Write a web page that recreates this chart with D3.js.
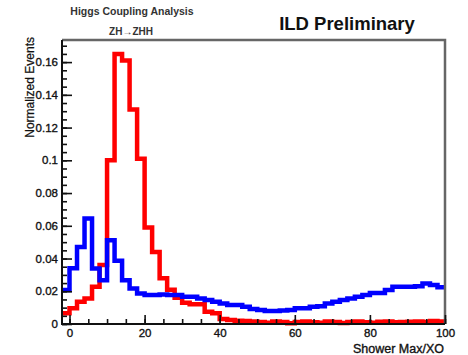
<!DOCTYPE html>
<html>
<head>
<meta charset="utf-8">
<script src="https://cdn.jsdelivr.net/npm/d3@7"></script>
<style>
  body { margin: 0; background: #fff; }
  svg { display: block; font-family: "Liberation Sans", Arial, sans-serif; }
</style>
</head>
<body>
<div id="chart"></div>
<script>
// histogram: 51 bins of width 2 from -2 to 100
const binStart = -2;
const binWidth = 2;
const redCounts = [
  0.0065, 0.0096, 0.0136, 0.0156, 0.0227, 0.036, 0.100, 0.165, 0.161, 0.131,
  0.101, 0.059, 0.044, 0.028, 0.021, 0.016, 0.013, 0.012, 0.012, 0.0075,
  0.0065, 0.003, 0.0025, 0.002, 0.0018, 0.0015, 0.0012, 0.0008, 0.0015, 0.0012,
  0.0005, 0.0012, 0.0015, 0.001, 0.0008, 0.0015, 0.0012, 0.0006, 0.0012, 0.0015,
  0.001, 0.0008, 0.0013, 0.0016, 0.001, 0.0012, 0.0014, 0.0015, 0.0012, 0.0018,
  0.0015
];
const blueCounts = [
  0.0207, 0.034, 0.047, 0.0644, 0.0339, 0.0268, 0.0512, 0.0386, 0.0268, 0.0217,
  0.0187, 0.0177, 0.0177, 0.018, 0.0177, 0.0177, 0.0166, 0.0166, 0.0156, 0.0146,
  0.0136, 0.0126, 0.0116, 0.0116, 0.0106, 0.0092, 0.0085, 0.008, 0.008, 0.0082,
  0.0085, 0.0096, 0.0096, 0.0105, 0.0108, 0.0126, 0.0136, 0.0146, 0.0156, 0.0166,
  0.0177, 0.019, 0.019, 0.0207, 0.0227, 0.0227, 0.0227, 0.0231, 0.0248, 0.0238,
  0.0224
];
const xMajorTicks = [0, 20, 40, 60, 80, 100];
const xMinorTicks = d3.range(0, 101, 5);
const yMajorTicks = [0, 0.02, 0.04, 0.06, 0.08, 0.1, 0.12, 0.14, 0.16];
const yMinorTicks = d3.range(0, 0.1701, 0.005);

const W = 468, H = 355;
const M = { left: 62, right: 445, top: 40, bottom: 324 };

const svg = d3.select('#chart').append('svg')
  .attr('width', W)
  .attr('height', H);

const x = d3.scaleLinear().domain([-2, 100]).range([M.left, M.right]);
const y = d3.scaleLinear().domain([0, 0.1735]).range([M.bottom, M.top]);

svg.append('clipPath').attr('id', 'plot')
  .append('rect')
  .attr('x', M.left).attr('y', M.top - 3)
  .attr('width', M.right - M.left).attr('height', M.bottom - M.top + 6);

function stepPoints (counts) {
  var pts = counts.map(function (v, i) { return [binStart + i * binWidth, v]; });
  pts.push([binStart + counts.length * binWidth, counts[counts.length - 1]]);
  return pts;
}

const line = d3.line()
  .x(function (d) { return x(d[0]); })
  .y(function (d) { return y(d[1]); })
  .curve(d3.curveStepAfter);

const hists = svg.append('g').attr('clip-path', 'url(#plot)');
hists.append('path')
  .attr('d', line(stepPoints(redCounts)))
  .attr('fill', 'none')
  .attr('stroke', '#ff0000')
  .attr('stroke-width', 4.5);
hists.append('path')
  .attr('d', line(stepPoints(blueCounts)))
  .attr('fill', 'none')
  .attr('stroke', '#0000ff')
  .attr('stroke-width', 4.5);

// frame (top and right)
svg.append('path')
  .attr('d', 'M' + M.left + ',' + M.top + 'H' + M.right + 'V' + M.bottom)
  .attr('fill', 'none')
  .attr('stroke', '#666')
  .attr('stroke-width', 2.5);

// axes, ticks drawn inwards
function styleAxis (g) {
  g.select('.domain').remove();
  g.selectAll('line').attr('stroke', '#111').attr('stroke-width', 1.6);
  g.selectAll('text')
    .attr('fill', '#111')
    .attr('stroke', '#111')
    .attr('stroke-width', 0.35)
    .style('font-size', '11.5px');
}

svg.append('g')
  .attr('transform', 'translate(0,' + M.bottom + ')')
  .call(d3.axisBottom(x).tickValues(xMinorTicks).tickSize(-5).tickFormat(''))
  .call(styleAxis);
svg.append('g')
  .attr('transform', 'translate(0,' + M.bottom + ')')
  .call(d3.axisBottom(x).tickValues(xMajorTicks).tickSize(-9).tickPadding(5).tickFormat(d3.format('d')))
  .call(styleAxis);

svg.append('g')
  .attr('transform', 'translate(' + M.left + ',0)')
  .call(d3.axisLeft(y).tickValues(yMinorTicks).tickSize(-5).tickFormat(''))
  .call(styleAxis);
svg.append('g')
  .attr('transform', 'translate(' + M.left + ',0)')
  .call(d3.axisLeft(y).tickValues(yMajorTicks).tickSize(-10).tickPadding(4).tickFormat(d3.format('~g')))
  .call(styleAxis);

svg.append('path')
  .attr('d', 'M' + M.left + ',' + M.top + 'V' + M.bottom + 'H' + M.right)
  .attr('fill', 'none')
  .attr('stroke', '#111')
  .attr('stroke-width', 2);

// labels
svg.append('text')
  .attr('x', M.right - 1)
  .attr('y', 353)
  .attr('text-anchor', 'end')
  .style('font-size', '12.5px')
  .attr('fill', '#111')
  .attr('stroke', '#111')
  .attr('stroke-width', 0.35)
  .text('Shower Max/XO');

svg.append('text')
  .attr('transform', 'translate(34,37) rotate(-90)')
  .attr('text-anchor', 'end')
  .style('font-size', '12px')
  .attr('fill', '#111')
  .attr('stroke', '#111')
  .attr('stroke-width', 0.25)
  .text('Normalized Events');

svg.append('text')
  .attr('x', 132)
  .attr('y', 15)
  .attr('text-anchor', 'middle')
  .style('font-size', '10.5px')
  .style('font-weight', 'bold')
  .attr('fill', '#333')
  .text('Higgs Coupling Analysis');

svg.append('text')
  .attr('x', 131)
  .attr('y', 35)
  .attr('text-anchor', 'middle')
  .style('font-size', '10px')
  .style('font-weight', 'bold')
  .attr('fill', '#333')
  .text('ZH→ZHH');

svg.append('text')
  .attr('x', 347)
  .attr('y', 30)
  .attr('text-anchor', 'middle')
  .style('font-size', '18.5px')
  .style('font-weight', 'bold')
  .attr('fill', '#111')
  .text('ILD Preliminary');
</script>
</body>
</html>
